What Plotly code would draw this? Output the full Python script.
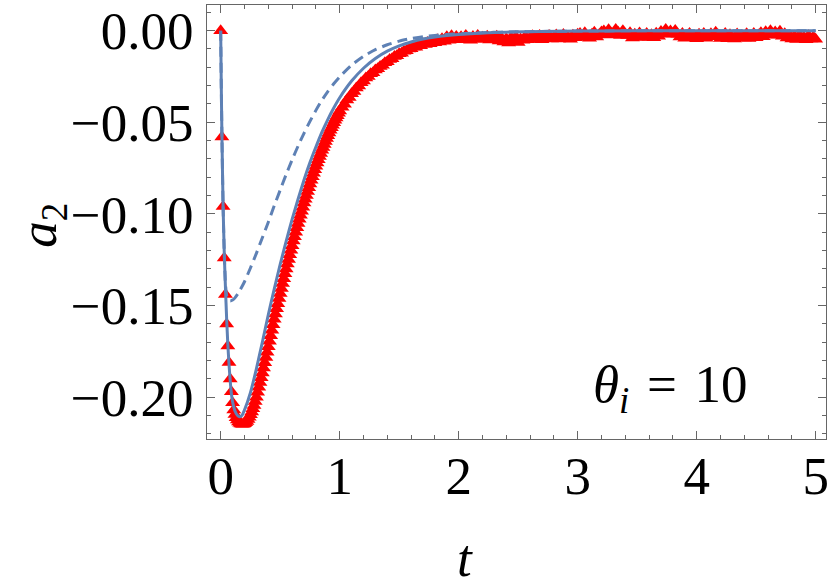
import numpy as np
import plotly.graph_objects as go

# ---- red triangles (simulation)
# t = 0.00 .. 1.00, every 0.01
red_t1_start, red_t1_step = 0.00, 0.01
red_a1 = [
    0.0, -0.058, -0.096, -0.124, -0.144, -0.160, -0.172, -0.181, -0.190, -0.197,
    -0.203, -0.207, -0.2095, -0.2112, -0.2125, -0.2135, -0.2142, -0.2146, -0.2148, -0.2147,
    -0.2145, -0.2139, -0.2132, -0.2122, -0.2110, -0.2096, -0.2080, -0.2063, -0.2045, -0.2023,
    -0.2000, -0.1973, -0.1946, -0.1920, -0.1894, -0.1868, -0.1841, -0.1812, -0.1783, -0.1754,
    -0.1725, -0.1695, -0.1665, -0.1635, -0.1605, -0.1575, -0.1546, -0.1518, -0.1490, -0.1462,
    -0.1434, -0.1407, -0.1380, -0.1353, -0.1326, -0.1300, -0.1273, -0.1248, -0.1223, -0.1198,
    -0.1173, -0.1148, -0.1124, -0.1100, -0.1076, -0.1052, -0.1029, -0.1007, -0.0985, -0.0963,
    -0.0941, -0.0920, -0.0899, -0.0878, -0.0857, -0.0836, -0.0816, -0.0797, -0.0778, -0.0759,
    -0.0740, -0.0722, -0.0705, -0.0687, -0.0670, -0.0653, -0.0637, -0.0621, -0.0605, -0.0589,
    -0.0573, -0.0558, -0.0544, -0.0530, -0.0516, -0.0502, -0.0489, -0.0476, -0.0464, -0.0451,
    -0.0438,
]
# t = 1.02 .. 5.00, every 0.02
red_t2_start, red_t2_step = 1.02, 0.02
red_a2 = [
    # 1.02 .. 2.00
    -0.0418, -0.0402, -0.0379, -0.0365, -0.0344, -0.0332, -0.0313, -0.0302, -0.0284, -0.0275,
    -0.0258, -0.0250, -0.0235, -0.0229, -0.0214, -0.0208, -0.0195, -0.0189, -0.0175, -0.0170,
    -0.0157, -0.0153, -0.0141, -0.0137, -0.0126, -0.0123, -0.0112, -0.0110, -0.0100, -0.0099,
    -0.0089, -0.0090, -0.0080, -0.0083, -0.0071, -0.0076, -0.0064, -0.0072, -0.0058, -0.0066,
    -0.0050, -0.0062, -0.0044, -0.0058, -0.0033, -0.0052, -0.0028, -0.0049, -0.0032, -0.0046,
    # 2.02 .. 5.00
    -0.0033, -0.0050, -0.0027, -0.0045, -0.0053, -0.0032, -0.0041, -0.0027, -0.0048, -0.0036,
    -0.0042, -0.0030, -0.0051, -0.0036, -0.0047, -0.0031, -0.0056, -0.0040, -0.0062, -0.0044,
    -0.0068, -0.0038, -0.0059, -0.0033, -0.0065, -0.0046, -0.0053, -0.0032, -0.0050, -0.0038,
    -0.0028, -0.0047, -0.0035, -0.0026, -0.0049, -0.0033, -0.0043, -0.0027, -0.0046, -0.0036,
    -0.0024, -0.0045, -0.0031, -0.0021, -0.0042, -0.0034, -0.0047, -0.0025, -0.0039, -0.0020,
    -0.0015, -0.0038, -0.0011, -0.0031, -0.0041, -0.0019, -0.0009, -0.0035, -0.0023, -0.0007,
    -0.0002, -0.0024, 0.0005, -0.0015, -0.0022, 0.0007, -0.0008, -0.0026, 0.0000, -0.0019,
    -0.0027, -0.0012, -0.0040, -0.0020, -0.0034, -0.0013, -0.0038, -0.0025, -0.0015, -0.0036,
    -0.0022, -0.0039, -0.0014, -0.0030, -0.0005, -0.0019, 0.0006, -0.0014, -0.0002, -0.0018,
    0.0001, -0.0021, -0.0035, -0.0015, -0.0042, -0.0025, -0.0016, -0.0038, -0.0029, -0.0044,
    -0.0020, -0.0036, -0.0015, -0.0041, -0.0026, -0.0017, -0.0033, -0.0009, -0.0024, -0.0043,
    -0.0028, -0.0016, -0.0044, -0.0022, -0.0037, -0.0046, -0.0018, -0.0035, -0.0026, -0.0040,
    -0.0017, -0.0043, -0.0030, -0.0015, -0.0039, -0.0024, -0.0012, -0.0033, -0.0006, -0.0024,
    -0.0001, -0.0022, -0.0007, -0.0025, -0.0003, -0.0031, -0.0017, -0.0040, -0.0027, -0.0045,
    -0.0031, -0.0048, -0.0026, -0.0042, -0.0034, -0.0050, -0.0028, -0.0045, -0.0035, -0.0047,
]

# ---- solid blue curve
solid_t = [0.00, 0.005, 0.01, 0.02, 0.03, 0.04, 0.05, 0.06, 0.07, 0.08, 0.09, 0.10, 0.12, 0.14,
           0.16, 0.18, 0.20, 0.25, 0.30, 0.35, 0.40, 0.45, 0.50, 0.55, 0.60, 0.65, 0.70, 0.75,
           0.80, 0.85, 0.90, 0.95, 1.00, 1.10, 1.20, 1.30, 1.40, 1.50, 1.60, 1.70, 1.80, 1.90,
           2.00, 2.20, 2.40, 2.70, 3.00, 3.50, 4.00, 5.00]
solid_a = [0.0, -0.030, -0.055, -0.095, -0.121, -0.140, -0.157, -0.171, -0.182, -0.191, -0.198,
           -0.2025, -0.2075, -0.2098, -0.2106, -0.2098, -0.2070, -0.1975, -0.1845, -0.1700,
           -0.1550, -0.1410, -0.1275, -0.1150, -0.1030, -0.0920, -0.0815, -0.0720, -0.0635,
           -0.0555, -0.0485, -0.0422, -0.0366, -0.0275, -0.0205, -0.0152, -0.0112, -0.0083,
           -0.0062, -0.0046, -0.0035, -0.0027, -0.0021, -0.0013, -0.0008, -0.0004, -0.0002,
           -0.0001, 0.0, 0.0]

# ---- dashed blue curve
dash_t = [0.00, 0.005, 0.01, 0.02, 0.03, 0.04, 0.05, 0.06, 0.08, 0.10, 0.12, 0.15, 0.20, 0.25,
          0.30, 0.35, 0.40, 0.45, 0.50, 0.55, 0.60, 0.65, 0.70, 0.75, 0.80, 0.85, 0.90, 0.95,
          1.00, 1.10, 1.20, 1.30, 1.40, 1.50, 1.60, 1.70, 1.80, 1.90, 2.00, 2.20, 2.50, 3.00,
          4.00, 5.00]
dash_a = [0.0, -0.030, -0.055, -0.095, -0.121, -0.138, -0.1445, -0.1465, -0.1475, -0.1470,
          -0.1458, -0.1430, -0.1370, -0.1295, -0.1215, -0.1130, -0.1045, -0.0955, -0.0870,
          -0.0785, -0.0705, -0.0630, -0.0560, -0.0495, -0.0435, -0.0380, -0.0332, -0.0290,
          -0.0252, -0.0188, -0.0140, -0.0104, -0.0077, -0.0057, -0.0043, -0.0033, -0.0026,
          -0.0021, -0.0017, -0.0011, -0.0006, -0.0002, 0.0, 0.0]

x_ticks = [0, 1, 2, 3, 4, 5]
y_ticks = [0.0, -0.05, -0.10, -0.15, -0.20]

# sample times of the two red blocks
red_t = (list(np.round(red_t1_start + red_t1_step * np.arange(len(red_a1)), 2))
         + list(np.round(red_t2_start + red_t2_step * np.arange(len(red_a2)), 2)))
red_a = red_a1 + red_a2

blue = "#5e81b5"
frame = "#666666"
font = "Liberation Serif"
sp = "\u2004"  # a bit wider than a normal space, like the reference's "="

fig = go.Figure()

fig.add_trace(go.Scatter(x=red_t, y=red_a, mode="markers",
                         marker=dict(symbol="triangle-up", size=13, color="#ff0000")))
fig.add_trace(go.Scatter(x=solid_t, y=solid_a, mode="lines",
                         line=dict(color=blue, width=3, shape="spline", smoothing=0.6)))
fig.add_trace(go.Scatter(x=dash_t, y=dash_a, mode="lines",
                         line=dict(color=blue, width=3, dash="10px,6px", shape="spline", smoothing=0.6)))

axis_common = dict(
    showgrid=False, zeroline=False, automargin=False,
    showline=True, linecolor=frame, linewidth=1, mirror="allticks",
    ticks="inside", ticklen=8, tickwidth=1, tickcolor=frame,
    tickfont=dict(family=font, size=53, color="black"),
)

fig.update_xaxes(range=[-0.115, 5.087], tickvals=x_ticks, ticklabelstandoff=-10,
                 minor=dict(dtick=0.2, ticks="inside", ticklen=4, tickcolor=frame),
                 **axis_common)
fig.update_yaxes(range=[-0.2228, 0.0140], tickvals=y_ticks, tickformat=".2f",
                 ticklabelstandoff=2,
                 minor=dict(dtick=0.01, ticks="inside", ticklen=4, tickcolor=frame),
                 **axis_common)

fig.update_layout(
    width=830, height=580,
    margin=dict(l=207, r=4, t=5, b=141),
    paper_bgcolor="white", plot_bgcolor="white",
    showlegend=False,
    annotations=[
        dict(text="<i>t</i>", xref="paper", yref="paper", x=0.417, y=-0.275,
             showarrow=False, xanchor="center", yanchor="middle",
             font=dict(family=font, size=53, color="black")),
        dict(text="<i>a</i><sub>2</sub>", xref="paper", yref="paper", x=-0.267, y=0.493,
             showarrow=False, textangle=-90, xanchor="center", yanchor="middle",
             font=dict(family=font, size=53, color="black")),
        dict(text="<i>θ</i><sub><i>i</i></sub>" + sp + "=" + sp + "10", xref="paper", yref="paper",
             x=0.6204, y=0.117, showarrow=False, xanchor="left", yanchor="middle",
             font=dict(family=font, size=53, color="black")),
    ],
)

# the page body has a default 8px margin; drop it so the figure sits at 0,0
fig.write_html("out.html", config={"displayModeBar": False},
               post_script="document.body.style.margin='0px';")
